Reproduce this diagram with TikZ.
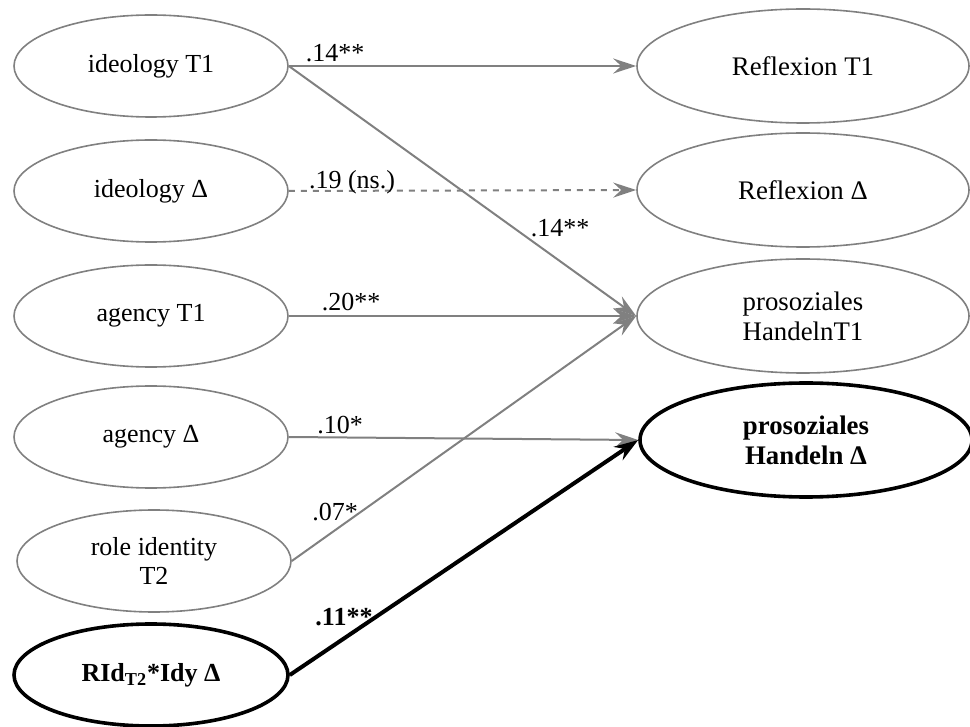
\documentclass[tikz,border=0pt]{standalone}
\usepackage{fontspec}
\setmainfont{Liberation Serif}
\usetikzlibrary{shapes.geometric,arrows.meta}

\definecolor{linegray}{RGB}{128,128,128}

\begin{document}
\begin{tikzpicture}[x=0.5pt,y=-0.5pt,
  txt/.style={font=\fontsize{13}{14.5}\selectfont},
  bigtxt/.style={font=\fontsize{13.4}{15}\selectfont},
  latent/.style={txt, ellipse, draw=linegray, line width=0.8pt, inner sep=0pt,
    minimum width=137pt, minimum height=51pt, align=center},
  outcome/.style={latent, bigtxt, minimum width=166pt, minimum height=57pt},
  keynode/.style={draw=black, line width=1.8pt},
  effect/.style={draw=linegray, line width=1pt,
    -{Stealth[length=11.5pt,width=7.5pt,inset=4pt]}},
  keyeffect/.style={draw=black, line width=2pt,
    -{Stealth[length=12pt,width=8pt,inset=4pt]}},
  coef/.style={txt, inner sep=0pt}]

\useasboundingbox (0,0) rectangle (970,727);

% predictors
\node[latent] (ideo1) at (151,66)  {ideology T1};
\node[latent] (ideoD) at (151,191) {ideology Δ};
\node[latent] (agen1) at (151,316) {agency T1};
\node[latent] (agenD) at (151,437) {agency Δ};
\node[latent] (role2) at (154,561) {role identity\\T2};
\node[latent, keynode, font=\fontsize{13}{14.5}\selectfont\bfseries] (rid) at (151,675) {RId\textsubscript{T2}*Idy Δ};

% outcomes
\node[outcome] (refl1) at (803,66)  {Reflexion T1};
\node[outcome] (reflD) at (803,190) {Reflexion Δ};
\node[outcome] (pros1) at (803,316) {prosoziales\\HandelnT1};
\node[outcome, keynode, font=\fontsize{13.4}{15}\selectfont\bfseries] (prosD) at (806,440) {prosoziales\\Handeln Δ};

% paths
\draw[effect] (ideo1.east) -- (refl1.west);
\draw[effect] (ideo1.east) -- (pros1.west);
\draw[effect, dashed] (ideoD.east) -- (reflD.west);
\draw[effect] (agen1.east) -- (pros1.west);
\draw[effect] (agenD.east) -- (prosD.west);
\draw[effect] (role2.east) -- (pros1.west);
\draw[keyeffect] (rid.east) -- (prosD.west);

% coefficients
\node[coef] (c1) at (335,53)  {.14**};
\node[coef] (c2) at (560,228) {.14**};
\node[coef] (c3) at (352,182) {.19 (ns.)};
\node[coef] (c4) at (351,302) {.20**};
\node[coef] (c5) at (340,425) {.10*};
\node[coef] (c6) at (335,512) {.07*};
\node[coef, font=\fontsize{13}{14.5}\selectfont\bfseries] (c7) at (344,617) {.11**};

\end{tikzpicture}
\end{document}
